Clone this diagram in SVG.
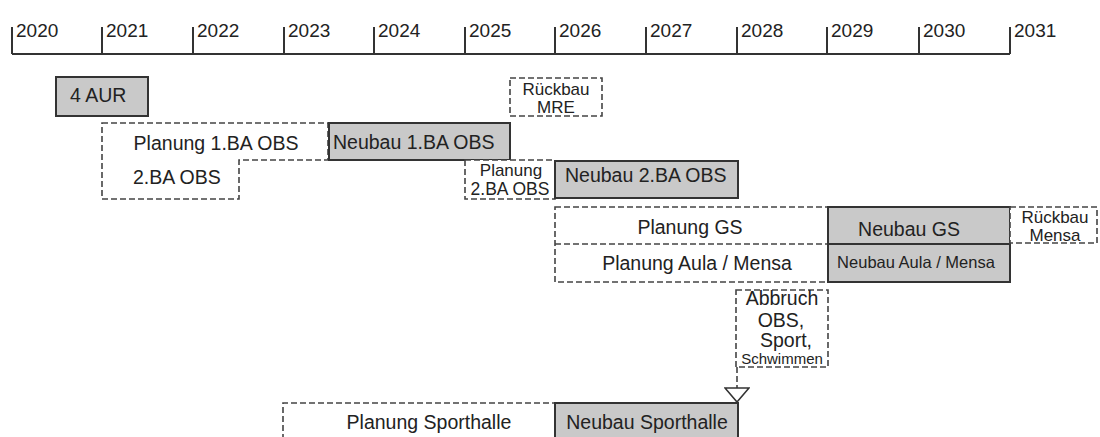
<svg xmlns="http://www.w3.org/2000/svg" width="1100" height="437" viewBox="0 0 1100 437">
<style>
text{font-family:"Liberation Sans",Arial,sans-serif;font-size:19.5px;fill:#222}
.c{text-anchor:middle}
.yr{font-size:19px}
.sm{font-size:16.5px}
.xs{font-size:15px}
.two{font-size:17px}
.solid{fill:#c9c9c9;stroke:#333;stroke-width:2}
.dash{fill:#fff;stroke:#444;stroke-width:1.6;stroke-dasharray:6 3}
.dl{fill:none;stroke:#444;stroke-width:1.6;stroke-dasharray:6 3}
.axis{fill:none;stroke:#333;stroke-width:2}
</style>
<defs>
<marker id="tri" viewBox="0 0 26 16" refX="13" refY="15" markerWidth="26" markerHeight="16" markerUnits="userSpaceOnUse" orient="0">
<path d="M1,1 L25,1 L13,15 Z" fill="#fff" stroke="#333" stroke-width="1.6"/>
</marker>
</defs>
<rect width="1100" height="437" fill="#fff"/>
<g id="timeline">
<path class="axis" d="M12,54 H1010 M12,27 V54 M102,27 V54 M193,27 V54 M284,27 V54 M374,27 V54 M465,27 V54 M555,27 V54 M646,27 V54 M737,27 V54 M827,27 V54 M919,27 V54 M1010,27 V54"/>
<text class="yr" x="16" y="37">2020</text>
<text class="yr" x="106" y="37">2021</text>
<text class="yr" x="197" y="37">2022</text>
<text class="yr" x="288" y="37">2023</text>
<text class="yr" x="378" y="37">2024</text>
<text class="yr" x="469" y="37">2025</text>
<text class="yr" x="559" y="37">2026</text>
<text class="yr" x="650" y="37">2027</text>
<text class="yr" x="741" y="37">2028</text>
<text class="yr" x="831" y="37">2029</text>
<text class="yr" x="923" y="37">2030</text>
<text class="yr" x="1014" y="37">2031</text>
</g>
<g id="aur">
<rect class="solid" x="56" y="77" width="92" height="39"/>
<text x="70" y="102">4 AUR</text>
</g>
<g id="planung1ba">
<path class="dash" d="M102,123 H328 V160 H239 V199 H102 Z"/>
<text class="c" x="216" y="150">Planung 1.BA OBS</text>
<text x="133" y="184">2.BA OBS</text>
</g>
<g id="neubau1ba">
<rect class="solid" x="329" y="123" width="181" height="37"/>
<text x="333" y="149">Neubau 1.BA OBS</text>
</g>
<g id="rueckbauMRE">
<rect class="dash" x="510" y="78" width="92" height="38"/>
<text class="c two" x="556" y="95">Rückbau</text>
<text class="c two" x="556" y="113">MRE</text>
</g>
<g id="planung2ba">
<rect class="dash" x="465" y="160" width="90" height="39"/>
<text class="c two" x="511" y="176">Planung</text>
<text class="c" x="510" y="195" style="font-size:17.5px">2.BA OBS</text>
</g>
<g id="neubau2ba">
<rect class="solid" x="555" y="161" width="183" height="37"/>
<text x="565" y="182">Neubau 2.BA OBS</text>
</g>
<g id="planungGS">
<rect class="dash" x="555" y="207" width="273" height="75"/>
<path class="dl" d="M555,244 H828"/>
<text class="c" x="690" y="234">Planung GS</text>
<text class="c" x="697" y="270">Planung Aula / Mensa</text>
</g>
<g id="neubauGS">
<rect class="solid" x="828" y="207" width="182" height="37"/>
<text class="c" x="909" y="236">Neubau GS</text>
</g>
<g id="neubauAula">
<rect class="solid" x="828" y="244" width="182" height="38"/>
<text class="c sm" x="916" y="268">Neubau Aula / Mensa</text>
</g>
<g id="rueckbauMensa">
<rect class="dash" x="1010" y="207" width="87" height="36"/>
<text class="c two" x="1055" y="223">Rückbau</text>
<text class="c two" x="1055" y="241">Mensa</text>
</g>
<g id="abbruch">
<rect class="dash" x="736" y="290" width="92" height="77"/>
<text class="c" x="782" y="305">Abbruch</text>
<text class="c" x="781" y="327">OBS,</text>
<text class="c" x="786" y="347">Sport,</text>
<text class="c xs" x="782" y="364">Schwimmen</text>
</g>
<g id="planungSporthalle">
<path class="dash" d="M283,440 V403 H555 V440"/>
<text class="c" x="429" y="429">Planung Sporthalle</text>
</g>
<g id="neubauSporthalle">
<rect class="solid" x="555" y="403" width="183" height="40"/>
<text class="c" x="647" y="429">Neubau Sporthalle</text>
</g>
<g id="connectors">
<path class="dl" d="M737,367 V402" marker-end="url(#tri)"/>
</g>
</svg>
